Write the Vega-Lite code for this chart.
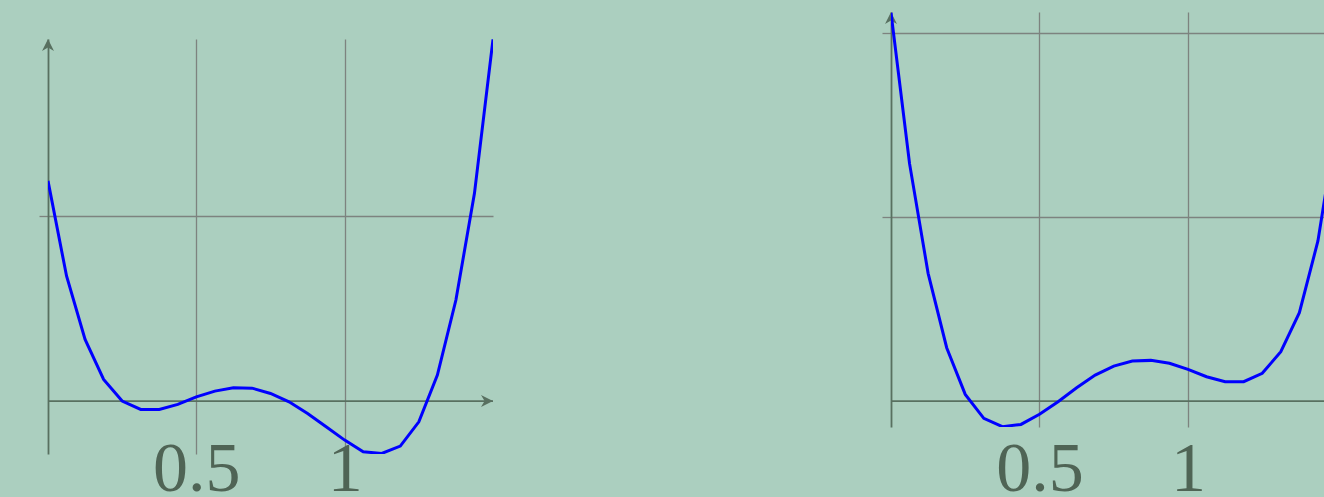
{
  "$schema": "https://vega.github.io/schema/vega-lite/v6.json",
  "background": "#abcfbf",
  "padding": {"left": 38, "top": 12, "right": 0, "bottom": 0},
  "config": {"view": {"stroke": null}, "concat": {"spacing": 387}},
  "datasets": {
    "left": [
      {"x": 0, "y": 1.19}, {"x": 0.0625, "y": 0.676}, {"x": 0.125, "y": 0.333}, {"x": 0.1875, "y": 0.117},
      {"x": 0.25, "y": 0.0}, {"x": 0.3125, "y": -0.045}, {"x": 0.375, "y": -0.045}, {"x": 0.4375, "y": -0.018},
      {"x": 0.5, "y": 0.023}, {"x": 0.5625, "y": 0.054}, {"x": 0.625, "y": 0.072}, {"x": 0.6875, "y": 0.07},
      {"x": 0.75, "y": 0.041}, {"x": 0.8125, "y": -0.004}, {"x": 0.875, "y": -0.067}, {"x": 0.9375, "y": -0.139},
      {"x": 1.0, "y": -0.211}, {"x": 1.0625, "y": -0.274}, {"x": 1.125, "y": -0.283}, {"x": 1.1875, "y": -0.243},
      {"x": 1.25, "y": -0.112}, {"x": 1.3125, "y": 0.141}, {"x": 1.375, "y": 0.546}, {"x": 1.4375, "y": 1.123},
      {"x": 1.5, "y": 1.955}
    ],
    "right": [
      {"x": 0, "y": 2.11}, {"x": 0.0625, "y": 1.29}, {"x": 0.125, "y": 0.694}, {"x": 0.1875, "y": 0.29},
      {"x": 0.25, "y": 0.036}, {"x": 0.3125, "y": -0.094}, {"x": 0.375, "y": -0.139}, {"x": 0.4375, "y": -0.127},
      {"x": 0.5, "y": -0.072}, {"x": 0.5625, "y": -0.004}, {"x": 0.625, "y": 0.072}, {"x": 0.6875, "y": 0.141},
      {"x": 0.75, "y": 0.19}, {"x": 0.8125, "y": 0.217}, {"x": 0.875, "y": 0.221}, {"x": 0.9375, "y": 0.205},
      {"x": 1.0, "y": 0.172}, {"x": 1.0625, "y": 0.132}, {"x": 1.125, "y": 0.105}, {"x": 1.1875, "y": 0.105},
      {"x": 1.25, "y": 0.151}, {"x": 1.3125, "y": 0.268}, {"x": 1.375, "y": 0.48}, {"x": 1.4375, "y": 0.87},
      {"x": 1.5, "y": 1.5}
    ]
  },
  "hconcat": [
    {
      "spacing": 0,
      "vconcat": [
        {
          "width": 445,
          "height": 27,
          "data": {"name": "left"},
          "transform": [{"filter": "datum.x == 0"}],
          "mark": {"type": "point", "opacity": 0},
          "encoding": {}
        },
        {
          "width": 445,
          "height": 415,
          "data": {"name": "left"},
          "encoding": {
            "x": {
              "field": "x", "type": "quantitative",
              "scale": {"domain": [0, 1.5], "nice": false, "zero": false},
              "axis": {
                "values": [0.5, 1], "format": "~g", "title": null, "grid": true, "gridColor": "#7d837f", "gridWidth": 1.3,
                "domain": false, "ticks": false, "labelFont": "Liberation Serif", "labelFontSize": 70,
                "labelColor": "#4f6455", "labelBaseline": "alphabetic", "labelPadding": 36, "labelFlush": false, "labelOverlap": false
              }
            },
            "y": {
              "field": "y", "type": "quantitative",
              "scale": {"domain": [-0.286, 1.957], "nice": false, "zero": false},
              "axis": {
                "values": [1], "title": null, "grid": true, "gridColor": "#7d837f", "gridWidth": 1.3,
                "ticks": true, "tickSize": 9, "tickColor": "#7d837f", "tickWidth": 1.3, "labels": false,
                "domain": true, "domainColor": "#587060", "domainWidth": 1.8
              }
            }
          },
          "layer": [
            {
              "transform": [{"filter": "datum.x == 0"}],
              "mark": {"type": "rule", "color": "#587060", "strokeWidth": 1.8},
              "encoding": {"x": {"datum": 0}, "x2": {"datum": 1.5}, "y": {"datum": 0}}
            },
            {
              "transform": [{"filter": "datum.x == 0"}],
              "mark": {"type": "point", "shape": "M0,0 L-1,-0.5 L-0.7,0 L-1,0.5 Z", "filled": true, "size": 576, "color": "#587060", "opacity": 1},
              "encoding": {"x": {"datum": 1.5}, "y": {"datum": 0}}
            },
            {
              "transform": [{"filter": "datum.x == 0"}],
              "mark": {"type": "point", "shape": "M0,0 L0.5,1 L0,0.7 L-0.5,1 Z", "filled": true, "size": 576, "color": "#587060", "opacity": 1},
              "encoding": {"x": {"datum": 0}, "y": {"datum": 1.957}}
            },
            {
              "mark": {"type": "line", "color": "#0000ff", "strokeWidth": 3, "clip": true}
            }
          ]
        }
      ]
    },
    {
      "width": 434,
      "height": 415,
      "data": {"name": "right"},
      "encoding": {
        "x": {
          "field": "x", "type": "quantitative",
          "scale": {"domain": [0, 1.4613], "nice": false, "zero": false},
          "axis": {
            "values": [0.5, 1], "format": "~g", "title": null, "grid": true, "gridColor": "#7d837f", "gridWidth": 1.3,
            "domain": false, "ticks": false, "labelFont": "Liberation Serif", "labelFontSize": 70,
            "labelColor": "#4f6455", "labelBaseline": "alphabetic", "labelPadding": 63, "labelFlush": false, "labelOverlap": false
          }
        },
        "y": {
          "field": "y", "type": "quantitative",
          "scale": {"domain": [-0.141, 2.114], "nice": false, "zero": false},
          "axis": {
            "values": [1, 2], "title": null, "grid": true, "gridColor": "#7d837f", "gridWidth": 1.3,
            "ticks": true, "tickSize": 9, "tickColor": "#7d837f", "tickWidth": 1.3, "labels": false,
            "domain": true, "domainColor": "#587060", "domainWidth": 1.8
          }
        }
      },
      "layer": [
        {
          "transform": [{"filter": "datum.x == 0"}],
          "mark": {"type": "rule", "color": "#587060", "strokeWidth": 1.8},
          "encoding": {"x": {"datum": 0}, "x2": {"datum": 1.4613}, "y": {"datum": 0}}
        },
        {
          "transform": [{"filter": "datum.x == 0"}],
          "mark": {"type": "point", "shape": "M0,0 L0.5,1 L0,0.7 L-0.5,1 Z", "filled": true, "size": 576, "color": "#587060", "opacity": 1},
          "encoding": {"x": {"datum": 0}, "y": {"datum": 2.114}}
        },
        {
          "mark": {"type": "line", "color": "#0000ff", "strokeWidth": 3, "clip": true}
        }
      ]
    }
  ]
}
